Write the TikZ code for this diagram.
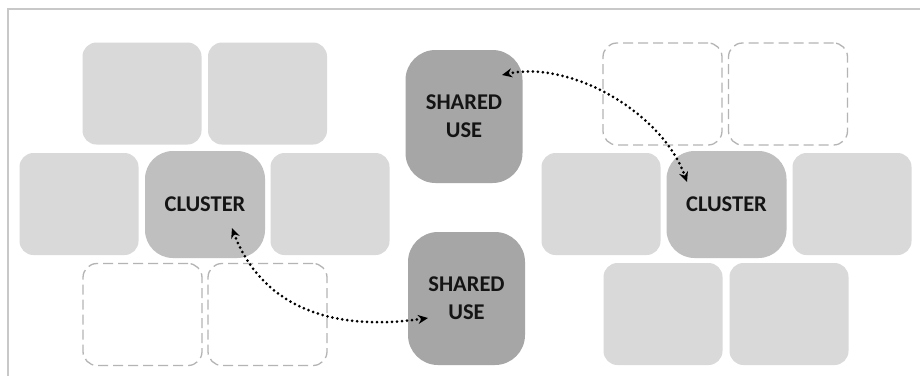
\documentclass[tikz,border=0pt]{standalone}
\usepackage{fontspec}
\setmainfont{Carlito}
\usetikzlibrary{arrows.meta,calc}
\definecolor{lightbox}{HTML}{D9D9D9}
\definecolor{clusterfill}{HTML}{BFBFBF}
\definecolor{sharedfill}{HTML}{A6A6A6}
\definecolor{dashcol}{HTML}{B4B4B4}
\definecolor{framecol}{HTML}{C8C8C8}
\definecolor{txt}{HTML}{141414}
\tikzset{
  cell/.style={rectangle, rounded corners=14pt, minimum width=119pt, minimum height=102pt, inner sep=0pt},
  lightcell/.style={cell, fill=lightbox},
  emptycell/.style={cell, draw=dashcol, line width=1.3pt, dash pattern=on 10pt off 5pt},
  clustercell/.style={rectangle, rounded corners=28pt, fill=clusterfill, minimum width=120pt, minimum height=107pt, inner sep=0pt, font=\fontsize{22.5}{28}\selectfont\bfseries, text=txt},
  sharedcell/.style={rectangle, rounded corners=30pt, fill=sharedfill, minimum width=117pt, minimum height=133pt, inner sep=0pt, align=center, font=\fontsize{22.5}{28}\selectfont\bfseries, text=txt},
  link/.style={line width=3pt, dash pattern=on 0pt off 5pt, line cap=round, {Stealth[length=10pt,width=9pt,line cap=butt]}-{Stealth[length=10pt,width=9pt,line cap=butt]}}
}
\begin{document}
\begin{tikzpicture}[x=1pt,y=-1pt]
\useasboundingbox (0,0) rectangle (920,376);
\fill[white] (0,0) rectangle (920,376);
\draw[framecol, line width=1.5pt] (8,376) -- (8,9) -- (920,9);
% left group
\node[lightcell] (l11) at (142,93.5) {};
\node[lightcell] (l12) at (267.5,93.5) {};
\node[lightcell] (l21) at (79,204) {};
\node[clustercell] (cl1) at (205,204.5) {CLUSTER};
\node[lightcell] (l23) at (330,204) {};
\node[emptycell] (l31) at (142.5,314.5) {};
\node[emptycell] (l32) at (267.5,314.5) {};
% shared use
\node[sharedcell] (s1) at (464,116.5) {SHARED\\USE};
\node[sharedcell] (s2) at (466.5,298.5) {SHARED\\USE};
% right group
\node[emptycell] (r11) at (662.5,94) {};
\node[emptycell] (r12) at (788,94) {};
\node[lightcell] (r21) at (601,204) {};
\node[clustercell] (cl2) at (726.5,204.5) {CLUSTER};
\node[lightcell] (r23) at (852,204) {};
\node[lightcell] (r31) at (663,314) {};
\node[lightcell] (r32) at (789,314) {};
% connectors
\coordinate (a1) at ($(cl1.center)+(27,23.5)$);
\coordinate (b1) at ($(s2.center)+(-38.5,19.5)$);
\coordinate (a2) at ($(s1.center)+(38,-41.5)$);
\coordinate (b2) at ($(cl2.center)+(-39.5,-22.5)$);
\draw[link] (a1) .. controls (255,290) and (310,335) .. (b1);
\draw[link] (a2) .. controls (570,60) and (662,112) .. (b2);
\end{tikzpicture}
\end{document}
